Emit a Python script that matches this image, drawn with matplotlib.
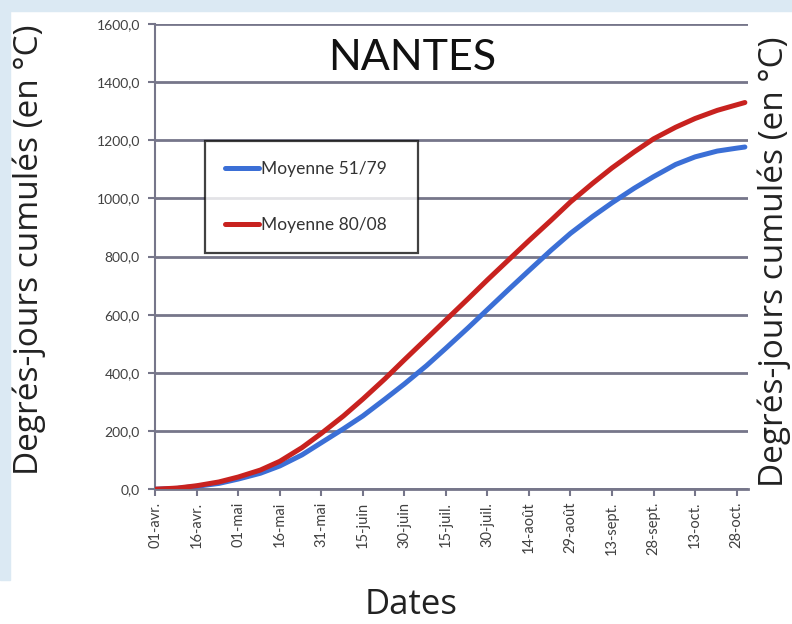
import matplotlib.pyplot as plt
from matplotlib.patches import Rectangle

# jours depuis le 01-avr.
days = [0, 8, 15, 23, 30, 38, 45, 53, 60, 68, 75, 83, 90, 98, 105, 113, 120,
        128, 135, 143, 150, 158, 165, 173, 180, 188, 195, 203, 210, 213]

moy_51_79 = [0, 3, 10, 20, 35, 55, 80, 118, 160, 208, 252, 310, 362, 425, 485,
             555, 618, 690, 752, 822, 880, 938, 985, 1035, 1075, 1117, 1143,
             1163, 1173, 1177]

moy_80_08 = [0, 4, 12, 25, 42, 66, 96, 143, 192, 252, 310, 380, 445, 518, 582,
             655, 720, 792, 855, 925, 988, 1052, 1105, 1160, 1205, 1245, 1275,
             1303, 1322, 1330]

tick_days = [0, 15, 30, 45, 60, 75, 90, 105, 120, 135, 150, 165, 180, 195, 210]
tick_labels = ['01-avr.', '16-avr.', '01-mai', '16-mai', '31-mai', '15-juin',
               '30-juin', '15-juil.', '30-juil.', '14-août', '29-août',
               '13-sept.', '28-sept.', '13-oct.', '28-oct.']

y_ticks = [0, 200, 400, 600, 800, 1000, 1200, 1400, 1600]

plt.rcParams['font.family'] = ['Lato', 'DejaVu Sans']

fig = plt.figure(figsize=(7.92, 6.24), dpi=100)
# fond bleuté autour du graphique
fig.patches.append(Rectangle((0, 0.982), 1, 0.018, transform=fig.transFigure,
                             color='#dbe9f3', zorder=0))
fig.patches.append(Rectangle((0, 0.07), 0.012, 0.93, transform=fig.transFigure,
                             color='#dbe9f3', zorder=0))

ax = fig.add_axes([0.196, 0.216, 0.748, 0.7455])
grid_col = '#76768a'

ax.plot(days, moy_51_79, color='#3b6fd6', lw=3.6, label='Moyenne 51/79',
        solid_capstyle='round', zorder=3)
ax.plot(days, moy_80_08, color='#c8221f', lw=3.6, label='Moyenne 80/08',
        solid_capstyle='round', zorder=3)

ax.set_xlim(0, 214)
ax.set_ylim(0, 1600)
ax.set_yticks(y_ticks)
ax.set_yticklabels([f'{v:.1f}'.replace('.', ',') for v in y_ticks],
                   fontsize=10, color='#404040')
ax.set_xticks(tick_days)
ax.set_xticklabels(tick_labels, rotation=90, fontsize=10.5, color='#404040')

ax.grid(axis='y', color=grid_col, lw=2)
ax.set_axisbelow(True)
for s in ['top', 'right']:
    ax.spines[s].set_visible(False)
ax.spines['left'].set_color(grid_col)
ax.spines['left'].set_linewidth(1.5)
ax.spines['bottom'].set_color(grid_col)
ax.spines['bottom'].set_linewidth(2)
ax.tick_params(axis='both', color=grid_col, width=1.5, length=5)
ax.tick_params(axis='y', pad=6)
ax.tick_params(axis='x', pad=4)

sans = ['Open Sans', 'DejaVu Sans']
fig.text(0.521, 0.937, 'NANTES', ha='center', va='top',
         fontsize=31, color='#111111')

ylab = 'Degrés-jours cumulés (en °C)'
fig.text(0.037, 0.6, ylab, rotation=90, ha='center', va='center',
         fontsize=24, color='#222222', family=sans)
fig.text(0.978, 0.58, ylab, rotation=90, ha='center', va='center',
         fontsize=24, color='#222222', family=sans)
fig.text(0.519, 0.03, 'Dates', ha='center', va='center',
         fontsize=25, color='#222222', family=sans)

leg = ax.legend(loc='upper left', bbox_to_anchor=(0.084, 0.5, 0.359, 0.248),
                mode='expand', borderaxespad=0, fontsize=12.5,
                handlelength=1.95, handletextpad=0.1, labelspacing=2.3,
                borderpad=1.15, frameon=True, fancybox=False)
leg.get_frame().set_edgecolor('#111111')
leg.get_frame().set_linewidth(1.6)
for t in leg.get_texts():
    t.set_color('#333333')

fig.savefig('out.png', dpi=100, facecolor='white')
